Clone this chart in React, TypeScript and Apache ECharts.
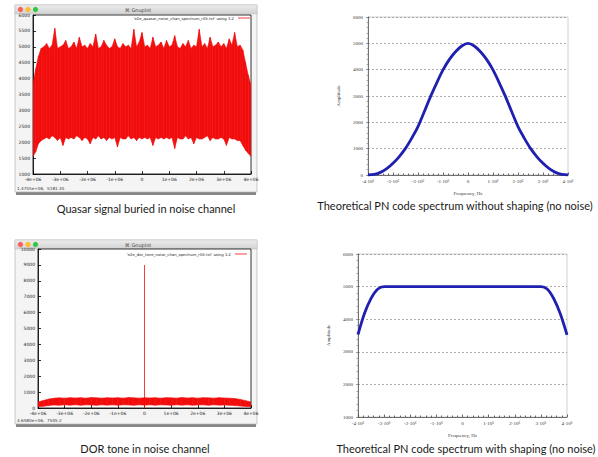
import { useEffect, useRef } from "react";
import * as echarts from "echarts";

// ---------- DATA ----------
// Quasar noise channel: envelope of the noisy record (every 0.1 MHz from -4 MHz to 4 MHz)
const quasarUpper = [
  3850, 4300, 4700, 4950, 5000, 5100, 4950, 5050, 5580, 4950,
  5000, 5050, 5200, 4950, 5000, 5150, 4950, 5300, 5000, 5050,
  4950, 5100, 5000, 5400, 4950, 5000, 5200, 5050, 4950, 5000,
  5250, 5000, 4950, 5100, 5000, 5050, 4950, 5550, 5000, 5150,
  5450, 5000, 5050, 4950, 5300, 5000, 5050, 5150, 4950, 5200,
  5000, 5050, 5350, 5000, 4950, 5100, 5000, 5200, 4950, 5050,
  5000, 5550, 5000, 5100, 4950, 5300, 5000, 5050, 5150, 5000,
  5100, 4950, 5250, 5050, 5450, 5000, 5050, 4900, 4500, 4100,
  3800,
];
const quasarLower = [
  1550, 1700, 1950, 2050, 2100, 2150, 2100, 2200, 2150, 2050,
  2150, 1900, 2150, 2100, 2150, 2100, 2200, 2150, 2050, 2150,
  2100, 1950, 2150, 2100, 2200, 2100, 2150, 2050, 2150, 2100,
  2150, 1850, 2150, 2100, 2100, 2200, 2100, 2150, 2050, 2150,
  2100, 2150, 2100, 2150, 1900, 2150, 2100, 2150, 2100, 2150,
  2100, 2150, 1800, 2150, 2100, 2100, 2200, 2100, 2150, 1950,
  2150, 2100, 2100, 2150, 2200, 2050, 2150, 2100, 2100, 2150,
  2100, 1900, 2150, 2100, 2100, 2050, 2050, 1900, 1750, 1650,
  1550,
];
// DOR tone channel: envelope every 0.2 MHz, plus the tone at 0 Hz
const dorUpper = [
  380, 470, 560, 620, 640, 620, 650, 630, 650, 620,
  660, 640, 620, 650, 630, 650, 620, 660, 640, 620,
  650, 630, 650, 620, 650, 640, 620, 660, 630, 650,
  620, 650, 640, 620, 650, 630, 620, 590, 540, 460,
  380,
];
const dorLower = [
  80, 110, 150, 190, 170, 200, 180, 200, 170, 200,
  190, 170, 200, 180, 200, 170, 200, 190, 170, 200,
  180, 200, 170, 200, 190, 170, 200, 180, 200, 170,
  190, 200, 170, 200, 180, 190, 170, 150, 120, 100,
  80,
];
const dorToneFreq = 0;
const dorToneAmp = 9000;
// Theoretical PN spectra, every 0.25 MHz from -4 MHz to 4 MHz
const pnNoShaping = [
  0, 20, 100, 240, 443, 700, 1010, 1400, 1835, 2400, 2975, 3500, 3990, 4380, 4680, 4900,
  5000,
  4900, 4680, 4380, 3990, 3500, 2975, 2400, 1835, 1400, 1010, 700, 443, 240, 100, 20, 0,
];
const pnShaping = [
  3530, 4180, 4640, 4920, 5000, 5000, 5000, 5000, 5000, 5000, 5000, 5000, 5000, 5000, 5000, 5000,
  5000,
  5000, 5000, 5000, 5000, 5000, 5000, 5000, 5000, 5000, 5000, 5000, 5000, 4920, 4620, 4150, 3520,
];
const captions = [
  "Quasar signal buried in noise channel",
  "Theoretical PN code spectrum without shaping (no noise)",
  "DOR tone in noise channel",
  "Theoretical PN code spectrum with shaping (no noise)",
];
const windowTitle = "Gnuplot";
const statusTexts = ["1.4755e+06,  5181.35", "4.6580e+06,  7505.2"];
const legendTexts = [
  "'e2e_quasar_noise_chan_spectrum_r03.txt' using 1:2",
  "'e2e_dor_tone_noise_chan_spectrum_r03.txt' using 1:2",
];

// sample frequencies (Hz)
const f01 = quasarUpper.map((_, i) => -4e6 + i * 1e5);
const f02 = dorUpper.map((_, i) => -4e6 + i * 2e5);
const f025 = pnNoShaping.map((_, i) => -4e6 + i * 2.5e5);

const RED = "#f20d0d";
const BLUE = "#2020b0";

const gnuFmt = (v: number) => (v === 0 ? "0" : `${Math.round(v / 1e6)}e+06`);
const mcFmt = (v: number) => (v === 0 ? "0" : `${Math.round(v / 1e6)}·10⁶`);
const plainFmt = (v: number) => String(v);

const gnuLabel = { fontSize: 4.5, color: "#222", fontFamily: "DejaVu Sans" };
const mcLabel = { fontSize: 5, color: "#333", fontFamily: "Liberation Serif" };

function gnuX(gridIndex: number) {
  return {
    gridIndex, type: "value", min: -4e6, max: 4e6, interval: 1e6,
    axisLine: { show: true, onZero: false, lineStyle: { color: "#000", width: 0.8 } },
    axisTick: { show: true, inside: true, length: 3, lineStyle: { color: "#000", width: 0.8 } },
    axisLabel: { ...gnuLabel, margin: 3, formatter: gnuFmt },
    splitLine: { show: false },
  };
}
function gnuY(gridIndex: number, min: number, max: number, interval: number) {
  return {
    gridIndex, type: "value", min, max, interval,
    axisLine: { show: true, onZero: false, lineStyle: { color: "#000", width: 0.8 } },
    axisTick: { show: true, inside: true, length: 3, lineStyle: { color: "#000", width: 0.8 } },
    axisLabel: { ...gnuLabel, margin: 3, formatter: plainFmt },
    splitLine: { show: false },
  };
}
function mcX(gridIndex: number) {
  return {
    gridIndex, type: "value", min: -4e6, max: 4e6, interval: 1e6,
    name: "Frequency, Hz", nameLocation: "middle", nameGap: 16,
    nameTextStyle: { ...mcLabel },
    axisLine: { show: true, onZero: false, lineStyle: { color: "#555", width: 0.8 } },
    axisTick: { show: true, inside: true, length: 2.5, lineStyle: { color: "#444", width: 0.8 } },
    minorTick: { show: true, splitNumber: 5, length: 1.5, lineStyle: { color: "#444", width: 0.8 } },
    axisLabel: { ...mcLabel, margin: 4, formatter: mcFmt },
    splitLine: { show: false },
  };
}
function mcY(gridIndex: number, min: number, max: number, gap: number) {
  return {
    gridIndex, type: "value", min, max, interval: 1000,
    name: "Amplitude", nameLocation: "middle", nameGap: gap, nameRotate: 90,
    nameTextStyle: { ...mcLabel },
    axisLine: { show: true, onZero: false, lineStyle: { color: "#555", width: 0.8 } },
    axisTick: { show: true, inside: false, length: 2, lineStyle: { color: "#555", width: 0.6 } },
    minorTick: { show: true, splitNumber: 5, length: 1.5, lineStyle: { color: "#777", width: 0.6 } },
    axisLabel: { ...mcLabel, margin: 5, formatter: plainFmt },
    splitLine: { show: true, lineStyle: { color: "#8a8a8a", width: 0.7, type: [2, 2] } },
  };
}

// band between a lower and an upper envelope, drawn segment by segment through the axes
function bandSeries(xi: number, yi: number, freqs: number[], lo: number[], up: number[]) {
  const data = freqs.slice(0, -1).map((f, i) => [f, lo[i], up[i], freqs[i + 1], lo[i + 1], up[i + 1]]);
  return {
    type: "custom", xAxisIndex: xi, yAxisIndex: yi, clip: true,
    data,
    encode: { x: [0, 3], y: [1, 2, 4, 5] },
    renderItem: (_params: any, api: any) => {
      const p1 = api.coord([api.value(0), api.value(2)]);
      const p2 = api.coord([api.value(3), api.value(5)]);
      const p3 = api.coord([api.value(3), api.value(4)]);
      const p4 = api.coord([api.value(0), api.value(1)]);
      return {
        type: "polygon",
        shape: { points: [p1, p2, p3, p4] },
        style: { fill: RED, stroke: RED, lineWidth: 0.6 },
      };
    },
  };
}

function gnuWindow(x: number, y: number, w: number, h: number, status: string, legend: string, legendRight: number, legendY: number) {
  const els: any[] = [];
  els.push({ type: "rect", z: -5, shape: { x: x + 1, y: y + h - 1, width: w - 2, height: 4 }, style: { fill: "#555", opacity: 0.7 } });
  els.push({ type: "rect", z: -4, shape: { x, y, width: w, height: h }, style: { fill: "#f4f4f4", stroke: "#a8a8a8", lineWidth: 0.6 } });
  els.push({
    type: "rect", z: -3, shape: { x, y, width: w, height: 9 },
    style: {
      fill: new echarts.graphic.LinearGradient(0, 0, 0, 1, [
        { offset: 0, color: "#ececec" }, { offset: 1, color: "#d2d2d2" },
      ]),
      stroke: "#b5b5b5", lineWidth: 0.4,
    },
  });
  const cols = ["#fc5f57", "#fdbc2e", "#33c748"];
  cols.forEach((c, i) => els.push({ type: "circle", z: 50, shape: { cx: x + 5.5 + i * 7.5, cy: y + 4.5, r: 2.6 }, style: { fill: c } }));
  els.push({ type: "text", z: 50, x: x + w / 2 + 2, y: y + 4.8, style: { text: "⌘ " + windowTitle, fontSize: 5, fill: "#444", align: "center", verticalAlign: "middle", fontFamily: "DejaVu Sans" } });
  els.push({ type: "text", z: 50, x: x + 2, y: y + h - 4, style: { text: status, fontSize: 4.2, fill: "#333", align: "left", verticalAlign: "middle", fontFamily: "DejaVu Sans" } });
  els.push({ type: "text", z: 50, x: legendRight, y: legendY, style: { text: legend, fontSize: 3.8, fill: "#222", align: "right", verticalAlign: "middle", fontFamily: "DejaVu Sans" } });
  els.push({ type: "line", z: 50, shape: { x1: legendRight + 4, y1: legendY, x2: legendRight + 16, y2: legendY }, style: { stroke: RED, lineWidth: 0.8 } });
  return els;
}

function caption(text: string, x: number, y: number) {
  return { type: "text", z: 50, x, y, style: { text, fontSize: 11, fill: "#1a1a1a", align: "center", verticalAlign: "middle", fontFamily: "Lato" } };
}

export default function App() {
  const ref = useRef<HTMLDivElement>(null);
  useEffect(() => {
    if (!ref.current) return;
    const chart = echarts.init(ref.current, undefined, { renderer: "svg" });
    const option: any = {
      animation: false,
      backgroundColor: "#fff",
      grid: [
        { left: 33, top: 15, width: 218, height: 159, show: true, backgroundColor: "#fff", borderColor: "#000", borderWidth: 0.8 },
        { left: 368, top: 17, width: 200, height: 158, show: true, backgroundColor: "#fff", borderColor: "#c4c4c4", borderWidth: 0.8 },
        { left: 38, top: 249, width: 213, height: 159, show: true, backgroundColor: "#fff", borderColor: "#000", borderWidth: 0.8 },
        { left: 358, top: 254, width: 209, height: 163, show: true, backgroundColor: "#fff", borderColor: "#c4c4c4", borderWidth: 0.8 },
      ],
      xAxis: [gnuX(0), mcX(1), gnuX(2), mcX(3)],
      yAxis: [
        gnuY(0, 1000, 6000, 500),
        mcY(1, 0, 6000, 27),
        gnuY(2, 0, 10000, 1000),
        mcY(3, 1000, 6000, 27),
      ],
      series: [
        bandSeries(0, 0, f01, quasarLower, quasarUpper),
        {
          type: "line", xAxisIndex: 1, yAxisIndex: 1, symbol: "none", smooth: 0.3,
          data: f025.map((f, i) => [f, pnNoShaping[i]]),
          lineStyle: { color: BLUE, width: 2.8 },
        },
        bandSeries(2, 2, f02, dorLower, dorUpper),
        {
          type: "line", xAxisIndex: 2, yAxisIndex: 2, symbol: "none",
          data: [[dorToneFreq, 0], [dorToneFreq, dorToneAmp]],
          lineStyle: { color: RED, width: 0.8 },
        },
        {
          type: "line", xAxisIndex: 3, yAxisIndex: 3, symbol: "none", smooth: 0.3,
          data: f025.map((f, i) => [f, pnShaping[i]]),
          lineStyle: { color: BLUE, width: 2.8 },
        },
      ],
      graphic: {
        elements: [
          ...gnuWindow(15, 5, 242, 187, statusTexts[0], legendTexts[0], 234, 18),
          ...gnuWindow(15, 240, 242, 184, statusTexts[1], legendTexts[1], 231, 254),
          caption(captions[0], 146, 208),
          caption(captions[1], 455, 205),
          caption(captions[2], 145, 448),
          caption(captions[3], 466, 448),
        ],
      },
    };
    chart.setOption(option);
    return () => chart.dispose();
  }, []);
  return <div ref={ref} style={{ position: "fixed", left: 0, top: 0, width: 598, height: 457 }} />;
}
